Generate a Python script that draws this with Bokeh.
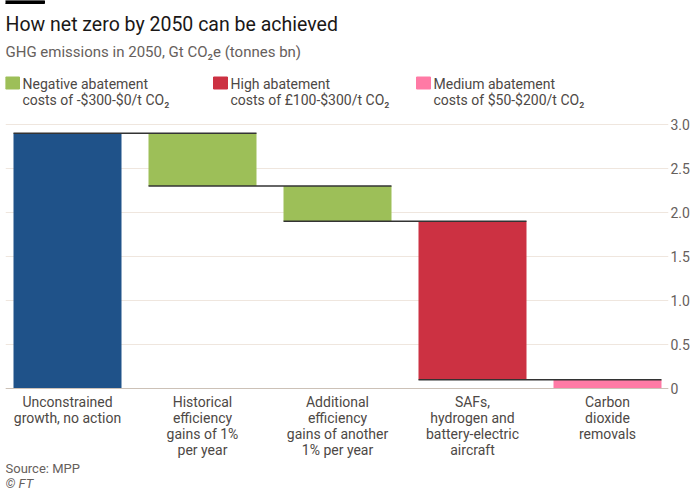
from bokeh.plotting import figure
from bokeh.layouts import column
from bokeh.models import Range1d, FixedTicker, Span, ColumnDataSource
from bokeh.core.properties import value
from bokeh.embed import file_html
from bokeh.resources import INLINE

# ---------------- data ----------------
categories = [
    "Unconstrained\ngrowth, no action",
    "Historical\nefficiency\ngains of 1%\nper year",
    "Additional\nefficiency\ngains of another\n1% per year",
    "SAFs,\nhydrogen and\nbattery-electric\naircraft",
    "Carbon\ndioxide\nremovals",
]
changes = [2.9, -0.6, -0.4, -1.8, -0.1]
groups = ["Unconstrained", "Negative", "Negative", "High", "Medium"]
legend_groups = ["Negative", "High", "Medium"]
legend_labels = [
    "Negative abatement\ncosts of -$300-$0/t CO\u2082",
    "High abatement\ncosts of \u00a3100-$300/t CO\u2082",
    "Medium abatement\ncosts of $50-$200/t CO\u2082",
]
group_colors = {"Unconstrained": "#1f5289", "Negative": "#9dbf58",
                "High": "#cc3142", "Medium": "#ff7aa5"}
y_ticks = [0, 0.5, 1.0, 1.5, 2.0, 2.5, 3.0]
y_tick_labels = ["0", "0.5", "1.0", "1.5", "2.0", "2.5", "3.0"]

title_text = "How net zero by 2050 can be achieved"
subtitle_text = "GHG emissions in 2050, Gt CO\u2082e (tonnes bn)"
source_text = "Source: MPP"
credit_text = "\u00a9 FT"

FONT = value("Roboto")
LABEL_GREY = "#4d4845"
SUB_GREY = "#66605c"

# ---------------- waterfall geometry from data ----------------
xs, bottoms, tops, colors, levels = [], [], [], [], []
level = 0.0
for i, c in enumerate(changes):
    new = level + c
    xs.append(i)
    bottoms.append(min(level, new))
    tops.append(max(level, new))
    colors.append(group_colors[groups[i]])
    level = new
    levels.append(level)

bar_width = 0.8
src = ColumnDataSource(dict(x=xs, bottom=bottoms, top=tops, color=colors))
conn = ColumnDataSource(dict(
    x0=[x - bar_width / 2 for x in xs[:-1]],
    x1=[x + bar_width / 2 for x in xs[1:]],
    y=levels[:-1],
))

W = 700
HEAD_H = 118
FOOT_H = 40
MAIN_H = 500 - HEAD_H - FOOT_H
FL, FR, FT_, FB = 5, 668, 122, 390          # main frame edges, page px


def pixel_fig(h):
    f = figure(width=W, height=h, x_range=Range1d(FL, FR),
               y_range=Range1d(h, 0), output_backend="svg",
               toolbar_location=None,
               min_border_left=FL, min_border_right=W - FR,
               min_border_top=0, min_border_bottom=0,
               background_fill_color="white", border_fill_color="white",
               outline_line_color=None)
    f.axis.visible = False
    f.grid.visible = False
    return f


# ---------------- header: title, subtitle, legend ----------------
head = pixel_fig(HEAD_H)
head.quad(left=[0], right=[44], top=[0], bottom=[3], color="black")
head.text(x=[5], y=[24], text=[title_text], text_font=FONT,
          text_font_size="19.5px", text_color="#1a1817",
          text_baseline="alphabetic")
head.text(x=[5], y=[51.5], text=[subtitle_text], text_font=FONT,
          text_font_size="15px", text_color=SUB_GREY,
          text_baseline="alphabetic")
leg_x = [5, 213, 416]
leg_src = ColumnDataSource(dict(
    left=leg_x, right=[x + 14 for x in leg_x], top=[76.5] * 3,
    bottom=[88.5] * 3,
    color=[group_colors[g] for g in legend_groups],
    tx=[x + 17 for x in leg_x], ty=[91.5] * 3, text=legend_labels))
head.quad(left="left", right="right", top="top", bottom="bottom",
          color="color", source=leg_src)
head.text(x="tx", y="ty", text="text", source=leg_src, text_font=FONT,
          text_font_size="14px", text_color=LABEL_GREY,
          text_baseline="alphabetic", text_line_height=1.035)

# ---------------- main chart ----------------
PXX = 1 / 135.0
PXY = 3.0 / 265.0
x_start = -(67 - FL) * PXX
x_end = 4 + (FR - 607) * PXX
y_start = -(FB - 389) * PXY
y_end = 3.0 + (124 - FT_) * PXY

p = figure(width=W, height=MAIN_H, x_range=Range1d(x_start, x_end),
           y_range=Range1d(y_start, y_end), output_backend="svg",
           toolbar_location=None, y_axis_location="right",
           min_border_left=FL, min_border_right=W - FR,
           min_border_top=FT_ - HEAD_H, min_border_bottom=HEAD_H + MAIN_H - FB,
           background_fill_color="white", border_fill_color="white",
           outline_line_color=None)

p.xaxis.ticker = FixedTicker(ticks=xs)
p.xaxis.major_label_overrides = {i: c for i, c in enumerate(categories)}
p.xaxis.axis_line_color = None
p.xaxis.major_tick_line_color = None
p.xaxis.minor_tick_line_color = None
p.xaxis.major_tick_out = 0
p.xaxis.minor_tick_out = 0
p.xaxis.major_label_standoff = 4
p.xaxis.major_label_text_font = "Roboto"
p.xaxis.major_label_text_font_size = "14px"
p.xaxis.major_label_text_color = LABEL_GREY
p.xaxis.major_label_text_line_height = 1.0

p.yaxis.ticker = FixedTicker(ticks=y_ticks)
p.yaxis.major_label_overrides = dict(zip(y_ticks, y_tick_labels))
p.yaxis.axis_line_color = None
p.yaxis.major_tick_line_color = None
p.yaxis.minor_tick_line_color = None
p.yaxis.major_tick_out = 0
p.yaxis.minor_tick_out = 0
p.yaxis.major_label_standoff = 2
p.yaxis.major_label_text_font = "Roboto"
p.yaxis.major_label_text_font_size = "14px"
p.yaxis.major_label_text_color = SUB_GREY

p.xgrid.visible = False
p.ygrid.grid_line_color = "#efe6de"
p.ygrid.grid_line_width = 1

p.add_layout(Span(location=0, dimension="width", line_color="#ccc1b7",
                  line_width=1))

p.vbar(x="x", bottom="bottom", top="top", width=bar_width,
       fill_color="color", line_color=None, source=src)
p.segment(x0="x0", x1="x1", y0="y", y1="y", source=conn,
          line_color="#333333", line_width=1.5)

# ---------------- footer ----------------
foot = pixel_fig(FOOT_H)
foot.text(x=[5], y=[7.8], text=[source_text], text_font=FONT,
          text_font_size="13px", text_color=SUB_GREY,
          text_baseline="alphabetic")
foot.text(x=[5], y=[23.3], text=[credit_text], text_font=FONT,
          text_font_size="13px", text_color=SUB_GREY,
          text_font_style="italic", text_baseline="alphabetic")

layout = column(head, p, foot, spacing=0)
open("out.html", "w").write(file_html(layout, INLINE))
